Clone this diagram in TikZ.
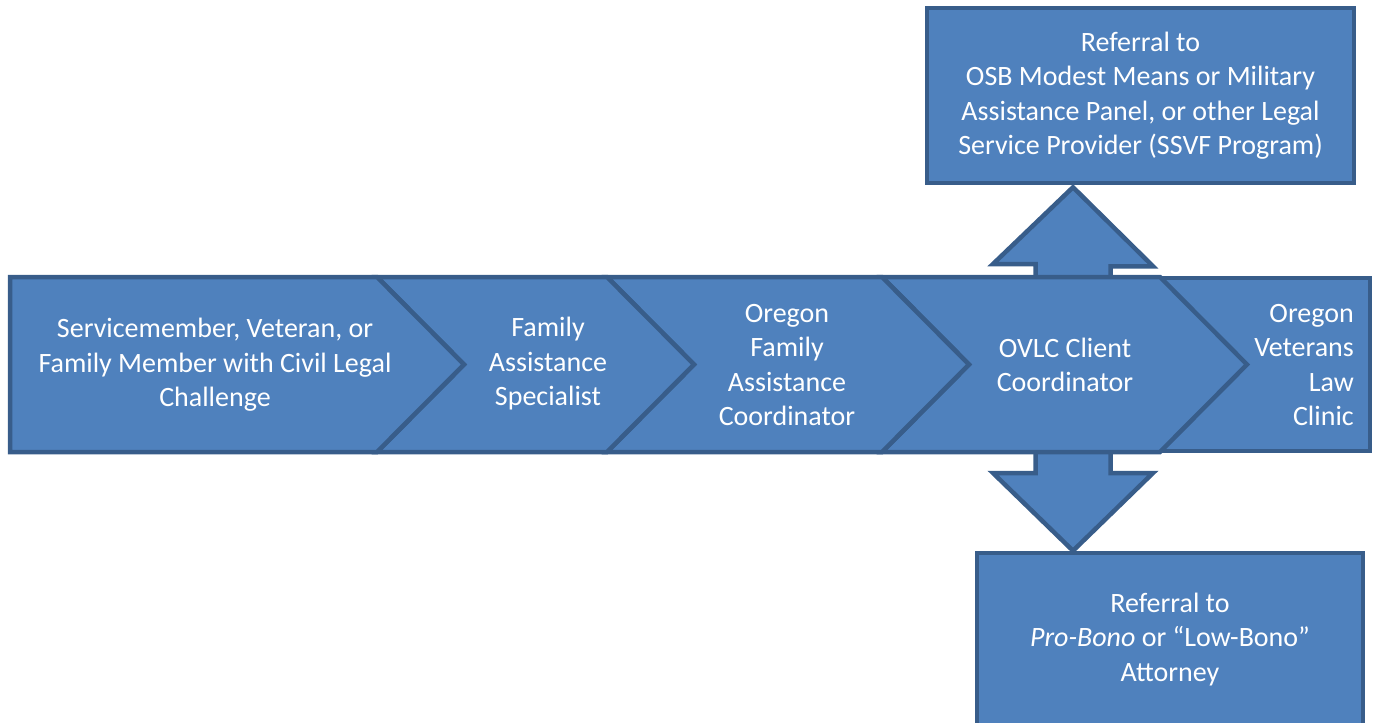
\documentclass[tikz,border=0pt]{standalone}
\usepackage{fontspec}
\setmainfont{Carlito}
\definecolor{boxfill}{HTML}{4F81BD}
\definecolor{boxline}{HTML}{385D8A}
\tikzset{
  blk/.style={fill=boxfill, draw=boxline, line width=4.5pt, line join=miter},
  lbl/.style={text=white, font=\fontsize{28}{34.5}\selectfont, align=center, inner sep=0pt},
}
\begin{document}
\begin{tikzpicture}[x=1pt,y=-1pt]
\useasboundingbox (0,0) rectangle (1377,723);
% referral boxes
\node[blk, lbl, minimum width=427pt, minimum height=175pt] (top) at (1140.5,95.5)
  {Referral to\\OSB Modest Means or Military\\Assistance Panel, or other Legal\\Service Provider (SSVF Program)};
\node[blk, lbl, minimum width=386pt, minimum height=173pt] (bot) at (1170,639.5)
  {Referral to\\\textit{Pro-Bono} or “Low-Bono”\\Attorney};
% double block arrow (behind the band)
\coordinate (ax) at (1073,0);
\draw[blk] (ax |- top.south) ++(0,2) -- ++(80,79) -- ++(-42.5,0) -- (1110.5,473) -- (1153,473)
  -- (ax |- bot.north) -- (993,473) -- (1035.5,473) -- (1035.5,264) -- (993,264) -- cycle;
% last box
\draw[blk] (1100,278) rectangle (1370,451);
\node[lbl, align=right, anchor=east] (t5) at (1354,365) {Oregon\\Veterans\\Law\\Clinic};
% chevrons
\draw[blk] (882,277) -- (1160,277) -- (1247,364.5) -- (1160,452) -- (882,452) -- (969,364.5) -- cycle;
\draw[blk] (607,277) -- (882,277) -- (969,364.5) -- (882,452) -- (607,452) -- (694,364.5) -- cycle;
\draw[blk] (377,277) -- (607,277) -- (694,364.5) -- (607,452) -- (377,452) -- (464,364.5) -- cycle;
\draw[blk] (10,277) -- (377,277) -- (464,364.5) -- (377,452) -- (10,452) -- cycle;
\node[lbl] (t1) at (215,365) {Servicemember, Veteran, or\\Family Member with Civil Legal\\Challenge};
\node[lbl] (t2) at (548,364) {Family\\Assistance\\Specialist};
\node[lbl] (t3) at (787,365) {Oregon\\Family\\Assistance\\Coordinator};
\node[lbl] (t4) at (1065,365) {OVLC Client\\Coordinator};
\end{tikzpicture}
\end{document}
